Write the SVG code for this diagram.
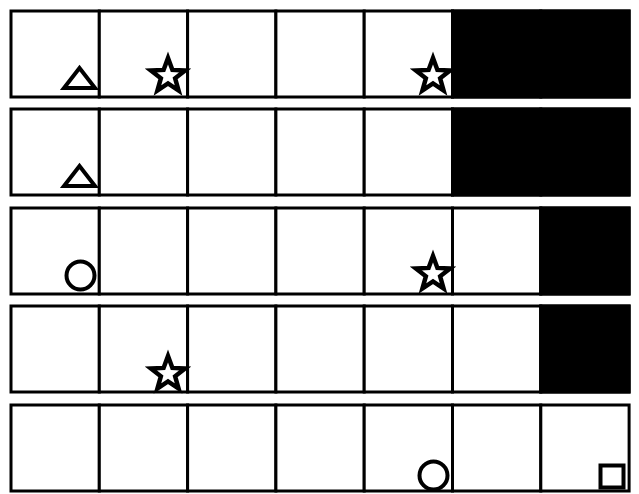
<svg xmlns="http://www.w3.org/2000/svg" xmlns:xlink="http://www.w3.org/1999/xlink" width="639" height="494" viewBox="0 0 639 494">
<style>
.c{fill:#fff;stroke:#000;stroke-width:3}
.b{fill:#000;stroke:#000;stroke-width:3}
.s{fill:#fff;stroke:#000;stroke-width:4.5;stroke-linejoin:miter}
.o{fill:#fff;stroke:#000;stroke-width:4}
</style>
<defs>
<path id="star" d="M0,-18 L4.41,-6.07 L17.12,-5.56 L7.13,2.32 L10.58,14.56 L0,7.5 L-10.58,14.56 L-7.13,2.32 L-17.12,-5.56 L-4.41,-6.07Z"/>
<g id="row">
<rect class="c" x="11" y="0" width="88.3" height="86"/>
<rect class="c" x="99.3" y="0" width="88.3" height="86"/>
<rect class="c" x="187.6" y="0" width="88.3" height="86"/>
<rect class="c" x="275.9" y="0" width="88.3" height="86"/>
<rect class="c" x="364.2" y="0" width="88.3" height="86"/>
<rect class="c" x="452.5" y="0" width="88.3" height="86"/>
<rect class="c" x="540.8" y="0" width="88.3" height="86"/>
</g>
</defs>
<rect width="639" height="494" fill="#fff"/>
<g id="row1">
<use xlink:href="#row" y="11"/>
<rect class="b" x="452.5" y="11" width="176.6" height="86"/>
<polygon class="o" points="64,88 95,88 79.5,68"/>
<use xlink:href="#star" class="s" x="168" y="76"/>
<use xlink:href="#star" class="s" x="433" y="76"/>
</g>
<g id="row2">
<use xlink:href="#row" y="109"/>
<rect class="b" x="452.5" y="109" width="176.6" height="86"/>
<polygon class="o" points="64,186 95,186 79.5,166"/>
</g>
<g id="row3">
<use xlink:href="#row" y="208"/>
<rect class="b" x="540.8" y="208" width="88.3" height="86"/>
<circle class="o" cx="80.5" cy="275.5" r="14"/>
<use xlink:href="#star" class="s" x="433" y="274"/>
</g>
<g id="row4">
<use xlink:href="#row" y="306"/>
<rect class="b" x="540.8" y="306" width="88.3" height="86"/>
<use xlink:href="#star" class="s" x="168" y="374"/>
</g>
<g id="row5">
<use xlink:href="#row" y="405"/>
<circle class="o" cx="433.5" cy="475.5" r="14"/>
<rect class="o" x="600.5" y="465.5" width="23" height="22"/>
</g>
<g id="connectors"/>
</svg>
